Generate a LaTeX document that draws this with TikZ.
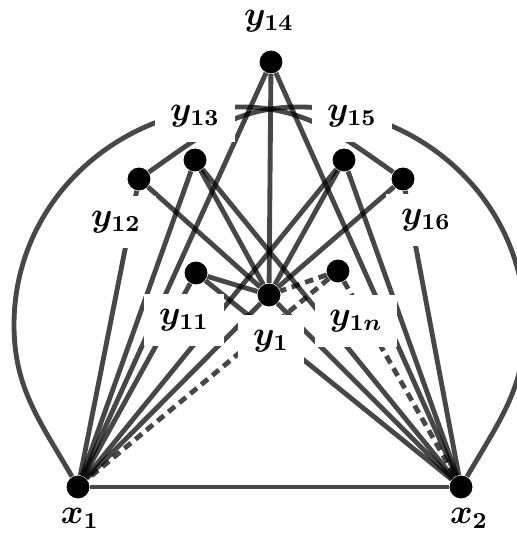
\documentclass[tikz,border=0pt]{standalone}
\usepackage{amsmath}
\usetikzlibrary{positioning}
\pgfdeclarelayer{edges}
\pgfdeclarelayer{labels}
\pgfsetlayers{edges,labels,main}

\begin{document}
\begin{tikzpicture}[x=0.35pt, y=0.35pt,
            vertex/.style={circle, fill=black, inner sep=0pt, minimum size=8pt},
            tag/.style={fill=white, inner sep=5.2pt, font=\large\boldmath},
            edge/.style={draw=black, draw opacity=0.72, line width=1.7pt},
            dashedge/.style={edge, dash pattern=on 3pt off 2pt}
        ]
            \useasboundingbox (0,0) rectangle (516,534);
            % vertices
            \node[vertex] (x1)  at (78,  47)  {};
            \node[vertex] (x2)  at (461, 47)  {};
            \node[vertex] (y1)  at (269, 239) {};
            \node[vertex] (y11) at (196, 261) {};
            \node[vertex] (y12) at (139, 355) {};
            \node[vertex] (y13) at (195, 374) {};
            \node[vertex] (y14) at (271, 472) {};
            \node[vertex] (y15) at (344, 374) {};
            \node[vertex] (y16) at (403, 355) {};
            \node[vertex] (y1n) at (338, 263) {};
            \coordinate (aL1) at (14,  209);
            \coordinate (aL2) at (240, 427);
            \coordinate (aR1) at (525, 209);
            \coordinate (aR2) at (299, 427);
            % labels
            \begin{pgfonlayer}{labels}
            \node[tag] (ly14) at (269, 513) {$y_{14}$};
            \node[tag] (ly13) at (195, 418) {$y_{13}$};
            \node[tag] (ly15) at (352, 418) {$y_{15}$};
            \node[tag] (ly12) at (116, 312) {$y_{12}$};
            \node[tag] (ly16) at (426, 314) {$y_{16}$};
            \node[tag] (ly11) at (184, 214) {$y_{11}$};
            \node[tag] (ly1)  at (271, 193) {$y_{1}$};
            \node[tag] (ly1n) at (356, 213) {$y_{1n}$};
            \node[tag] (lx1)  at (80,  16)  {$x_{1}$};
            \node[tag] (lx2)  at (469, 16)  {$x_{2}$};
            \end{pgfonlayer}
            % edges
            \begin{pgfonlayer}{edges}
            \fill[white] (0,0) rectangle (516,534);
            \draw[edge] (x1) -- (x2);
            \foreach \v in {y1,y11,y12,y13,y14,y15}
                \draw[edge] (x1) -- (\v);
            \foreach \v in {y1,y11,y13,y14,y15,y16}
                \draw[edge] (x2) -- (\v);
            \foreach \v in {y11,y12,y13,y14,y15,y16}
                \draw[edge] (y1) -- (\v);
            \draw[dashedge] (y1n) -- (x1);
            \draw[dashedge] (y1n) -- (x2);
            \draw[dashedge] (y1n) -- (y1);
            \draw[edge] (x1) to[out=120, in=-90] (aL1) to[out=90, in=180] (aL2) to[out=0, in=145] (y16);
            \draw[edge] (x2) to[out=60, in=-90] (aR1) to[out=90, in=0] (aR2) to[out=180, in=35] (y12);
            \end{pgfonlayer}
        \end{tikzpicture}
\end{document}
